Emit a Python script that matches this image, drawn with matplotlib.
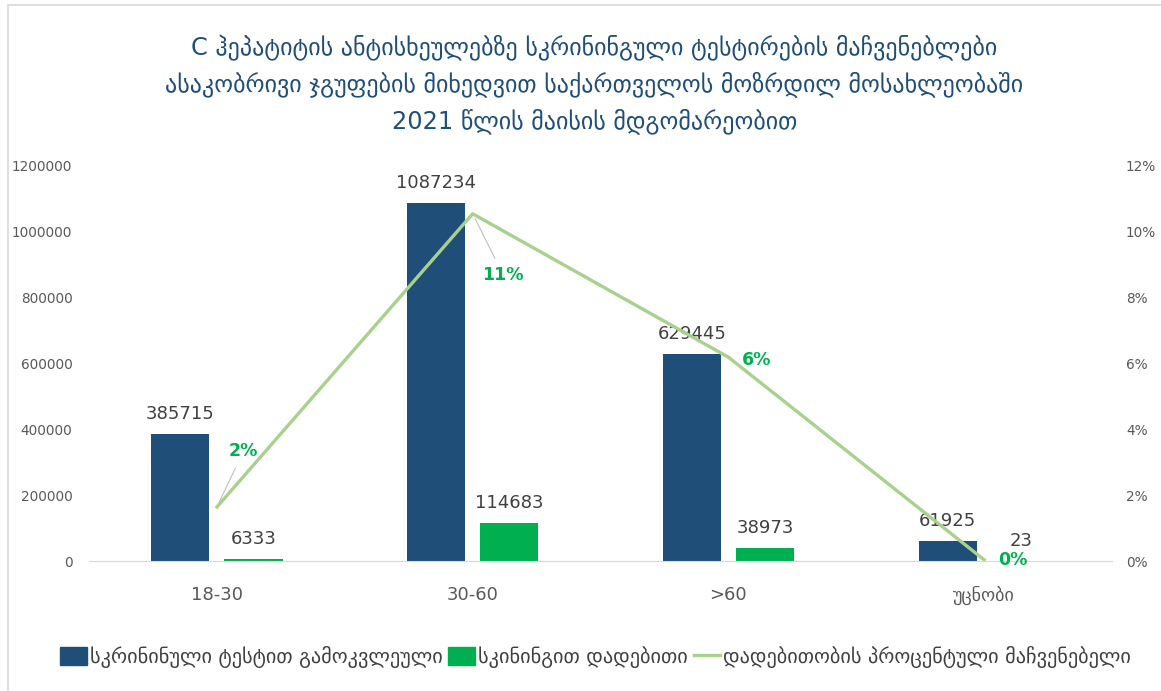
import numpy as np
import matplotlib
matplotlib.use("Agg")
import matplotlib.pyplot as plt
from matplotlib.patches import Rectangle
from matplotlib.lines import Line2D

plt.rcParams['font.family'] = ['DejaVu Sans']

groups = ['18-30', '30-60', '>60', 'უცნობი']
tested = [385715, 1087234, 629445, 61925]
positive = [6333, 114683, 38973, 23]
pct_labels = ['2%', '11%', '6%', '0%']

title_lines = ['C ჰეპატიტის ანტისხეულებზე სკრინინგული ტესტირების მაჩვენებლები',
               'ასაკობრივი ჯგუფების მიხედვით საქართველოს მოზრდილ მოსახლეობაში',
               '2021 წლის მაისის მდგომარეობით']
legend_names = ['სკრინინული ტესტით გამოკვლეული', 'სკინინგით დადებითი',
                'დადებითობის პროცენტული მაჩვენებელი']

blue = '#1F4E79'
green = '#00B050'
light_green = '#A9D18E'
gray = '#595959'
dark = '#404040'

tested = np.array(tested, dtype=float)
positive = np.array(positive, dtype=float)
share = positive / tested * 100

fig = plt.figure(figsize=(11.61, 6.91), dpi=100)
ax = fig.add_axes([0.0767, 0.1881, 0.8811, 0.5717])
ax2 = ax.twinx()

x = np.arange(len(groups))
w = 0.227
off = 0.143
ax.bar(x - off, tested, w, color=blue, zorder=2)
ax.bar(x + off, positive, w, color=green, zorder=2)

for xi, v in zip(x - off, tested):
    ax.annotate(f'{int(v)}', (xi, v), xytext=(0, 8), textcoords='offset points',
                ha='center', va='bottom', fontsize=13, color=dark)
for xi, v in zip(x + off, positive):
    ax.annotate(f'{int(v)}', (xi, v), xytext=(0, 8), textcoords='offset points',
                ha='center', va='bottom', fontsize=13, color=dark)

ax2.plot(x, share, color=light_green, lw=2.4, zorder=3)

# percentage labels, two of them with leader lines back to the point
label_offsets = [(19, 40), (22, -44), (20, -2), (21, 0)]
for i, (xi, yi) in enumerate(zip(x, share)):
    dx, dy = label_offsets[i]
    arrow = None
    if i in (0, 1):
        arrow = dict(arrowstyle='-', color='#BFBFBF', lw=0.8, shrinkA=4, shrinkB=4)
    ax2.annotate(pct_labels[i], (xi, yi), xytext=(dx, dy), textcoords='offset points',
                 ha='center', va='center', fontsize=12.5, fontweight='bold',
                 color=green, arrowprops=arrow, zorder=4)

ax.set_xlim(-0.5, len(groups) - 0.5)
ax.set_ylim(0, 1200000)
ax2.set_ylim(0, 12)
ax.set_yticks(np.arange(0, 1200001, 200000))
ax.set_yticklabels([f'{v}' for v in range(0, 1200001, 200000)])
ax2.set_yticks(np.arange(0, 13, 2))
ax2.set_yticklabels([f'{v}%' for v in range(0, 13, 2)])
ax.set_xticks(x)
ax.set_xticklabels(groups)

for a in (ax, ax2):
    for s in a.spines.values():
        s.set_visible(False)
ax.spines['bottom'].set_visible(True)
ax.spines['bottom'].set_color('#D9D9D9')
ax.tick_params(axis='x', length=0, pad=18, labelsize=13, labelcolor=gray)
ax.tick_params(axis='y', length=0, pad=12, labelsize=9.8, labelcolor=gray)
ax2.tick_params(axis='y', length=0, pad=10, labelsize=9.8, labelcolor=gray)

for t, y in zip(title_lines, [0.932, 0.879, 0.825]):
    fig.text(0.512, y, t, ha='center', va='center', fontsize=17.3, color=blue)

handles = [Rectangle((0, 0), 1, 1, color=blue), Rectangle((0, 0), 1, 1, color=green),
           Line2D([], [], color=light_green, lw=2.4)]
fig.legend(handles, legend_names, loc='center', bbox_to_anchor=(0.513, 0.049), ncol=3,
           frameon=False, fontsize=14.6, handlelength=1.3, handleheight=1.0,
           handletextpad=0.15, columnspacing=0.3, labelcolor=dark)

# thin frame around the whole chart
fig.patches.append(Rectangle((8 / 1161, -0.05), 1.2, 1 - 5 / 691 + 0.05, transform=fig.transFigure,
                             fill=False, edgecolor='#D9D9D9', lw=1.2))

fig.savefig('out.png', dpi=100)
